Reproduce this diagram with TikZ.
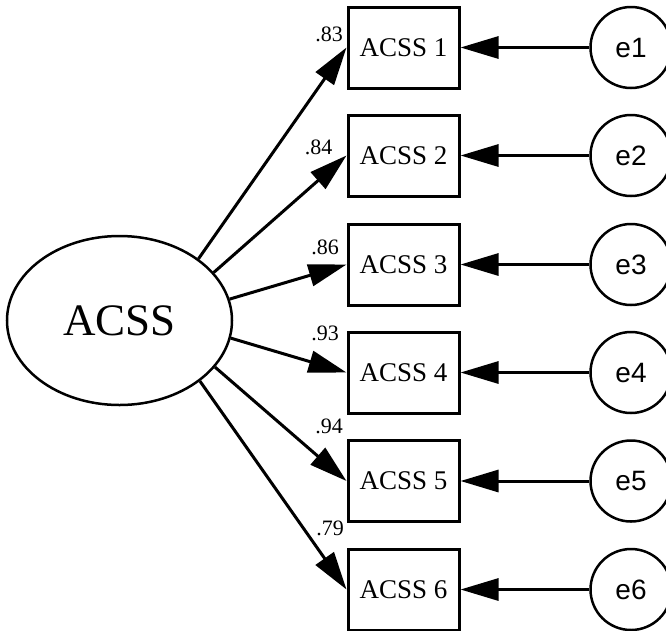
\documentclass[tikz,border=0pt]{standalone}
\usepackage{fontspec}
\setmainfont{Liberation Serif}
\newfontfamily\errfont{Liberation Sans}
\usetikzlibrary{arrows.meta,shapes.geometric}

\begin{document}
\begin{tikzpicture}[x=1pt, y=-1pt,
  latent/.style={draw, ellipse, line width=2.5pt, minimum width=225pt, minimum height=169pt, inner sep=0pt, font=\fontsize{45}{50}\selectfont},
  item/.style={draw, rectangle, line width=3pt, minimum width=111pt, minimum height=81pt, inner sep=0pt, font=\fontsize{27}{30}\selectfont},
  err/.style={draw, circle, line width=2.5pt, minimum size=81pt, inner sep=0pt, font=\errfont\fontsize{28}{30}\selectfont},
  coef/.style={inner sep=0pt, font=\fontsize{22}{24}\selectfont},
  effect/.style={line width=3pt, -{Triangle[length=38pt, width=22pt]}}]

\useasboundingbox (0,0) rectangle (666,630);
\node[latent] (acss) at (119.5,320.5) {ACSS};
\node[item] (b1) at (403.5,47.5) {ACSS 1};
\node[item] (b2) at (403.5,155.5) {ACSS 2};
\node[item] (b3) at (403.5,264.5) {ACSS 3};
\node[item] (b4) at (403.5,372.5) {ACSS 4};
\node[item] (b5) at (403.5,481) {ACSS 5};
\node[item] (b6) at (403.5,589.5) {ACSS 6};
\node[err] (e1) at (631,47.5) {e1};
\node[err] (e2) at (631,155.5) {e2};
\node[err] (e3) at (631,264.5) {e3};
\node[err] (e4) at (631,372.5) {e4};
\node[err] (e5) at (631,481) {e5};
\node[err] (e6) at (631,589.5) {e6};
\draw[effect] (acss.38) -- (b1.west);
\draw[effect] (acss.27) -- (b2.west);
\draw[effect] (acss.11) -- (b3.west);
\draw[effect] (acss.-9) -- (b4.west);
\draw[effect] (acss.-26) -- (b5.west);
\draw[effect] (acss.-37) -- (b6.west);
\draw[effect] (e1) -- (b1);
\draw[effect] (e2) -- (b2);
\draw[effect] (e3) -- (b3);
\draw[effect] (e4) -- (b4);
\draw[effect] (e5) -- (b5);
\draw[effect] (e6) -- (b6);
\node[coef] (l1) at (329,34.5) {.83};
\node[coef] (l2) at (318.5,147.5) {.84};
\node[coef] (l3) at (325,247) {.86};
\node[coef] (l4) at (325,333.5) {.93};
\node[coef] (l5) at (329,426) {.94};
\node[coef] (l6) at (330,528.5) {.79};
\end{tikzpicture}
\end{document}
